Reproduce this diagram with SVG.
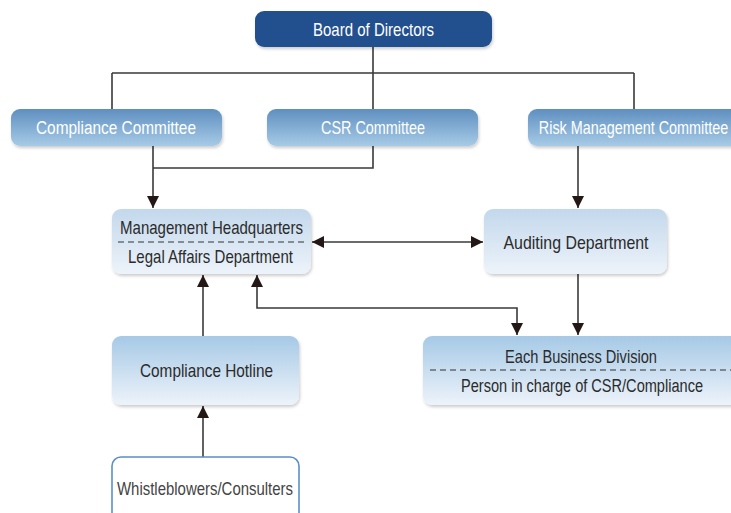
<svg xmlns="http://www.w3.org/2000/svg" width="731" height="513" viewBox="0 0 731 513">
<defs>
<linearGradient id="gCom" x1="0" y1="0" x2="0" y2="1">
<stop offset="0" stop-color="#5f8fc0"/><stop offset="1" stop-color="#a7cbe6"/>
</linearGradient>
<linearGradient id="gLow" x1="0" y1="0" x2="0" y2="1">
<stop offset="0" stop-color="#a6c9e6"/><stop offset="1" stop-color="#edf3fa"/>
</linearGradient>
<linearGradient id="gLow2" x1="0" y1="0" x2="0" y2="1">
<stop offset="0" stop-color="#c3d8ec"/><stop offset="1" stop-color="#edf3fa"/>
</linearGradient>
<filter id="sh" x="-10%" y="-10%" width="120%" height="130%">
<feDropShadow dx="1" dy="2" stdDeviation="1.5" flood-color="#000" flood-opacity="0.2"/>
</filter>
<marker id="ah" viewBox="0 0 10 10" refX="10" refY="5" markerWidth="12" markerHeight="12" markerUnits="userSpaceOnUse" orient="auto-start-reverse">
<path d="M0,0 L10,5 L0,10 Z" fill="#231815"/>
</marker>
</defs>
<style>
text{font-family:"Liberation Sans",Arial,sans-serif;font-size:19px;text-anchor:middle}
.w{fill:#ffffff}
.d{fill:#2b2b2b}
.c{fill:none;stroke:#3a3a3a;stroke-width:1.6}
.a{marker-end:url(#ah)}
.dash{stroke:#333;stroke-width:1.2;stroke-dasharray:6,4}
</style>
<g id="connectors">
<path class="c" d="M373,47 V73 M112,73 H634 M112,73 V109 M373,73 V109 M634,73 V109"/>
<path class="c a" d="M153,146 V208"/>
<path class="c" d="M153,168 H373 V146"/>
<path class="c a" d="M578,146 V208"/>
<path class="c a" d="M578,274 V335"/>
<path class="c a" style="marker-start:url(#ah)" d="M312,242 H483"/>
<path class="c a" style="marker-start:url(#ah)" d="M517,335 V308 H257 V275"/>
<path class="c a" d="M203,336 V275"/>
<path class="c a" d="M203,457 V406"/>
</g>
<g id="board">
<rect x="255" y="11" width="237" height="36" rx="9" fill="#22508e" filter="url(#sh)"/>
<text class="w" x="373.5" y="35.5" textLength="121" lengthAdjust="spacingAndGlyphs">Board of Directors</text>
</g>
<g id="compliance-committee">
<rect x="11" y="109" width="211" height="37" rx="9" fill="url(#gCom)" filter="url(#sh)"/>
<text class="w" x="116" y="134" textLength="160" lengthAdjust="spacingAndGlyphs">Compliance Committee</text>
</g>
<g id="csr-committee">
<rect x="267" y="109" width="211" height="37" rx="9" fill="url(#gCom)" filter="url(#sh)"/>
<text class="w" x="373" y="134" textLength="104" lengthAdjust="spacingAndGlyphs">CSR Committee</text>
</g>
<g id="risk-committee">
<rect x="528" y="109" width="215" height="37" rx="9" fill="url(#gCom)" filter="url(#sh)"/>
<text class="w" transform="translate(633.5,134) scale(0.757,1)" x="0" y="0">Risk Management Committee</text>
</g>
<g id="management-hq">
<rect x="112" y="209" width="199" height="65" rx="9" fill="url(#gLow2)" filter="url(#sh)"/>
<text class="d" x="211.5" y="234" textLength="183" lengthAdjust="spacingAndGlyphs">Management Headquarters</text>
<line class="dash" x1="118" y1="242" x2="305" y2="242"/>
<text class="d" x="210.5" y="263" textLength="165" lengthAdjust="spacingAndGlyphs">Legal Affairs Department</text>
</g>
<g id="auditing">
<rect x="484" y="209" width="183" height="65" rx="9" fill="url(#gLow2)" filter="url(#sh)"/>
<text class="d" x="576" y="249" textLength="145" lengthAdjust="spacingAndGlyphs">Auditing Department</text>
</g>
<g id="business-division">
<rect x="423" y="336" width="318" height="69" rx="9" fill="url(#gLow)" filter="url(#sh)"/>
<text class="d" x="581" y="363" textLength="152" lengthAdjust="spacingAndGlyphs">Each Business Division</text>
<line class="dash" x1="430" y1="370" x2="731" y2="370"/>
<text class="d" transform="translate(582,392) scale(0.767,1)" x="0" y="0">Person in charge of CSR/Compliance</text>
</g>
<g id="hotline">
<rect x="112" y="336" width="187" height="69" rx="9" fill="url(#gLow)" filter="url(#sh)"/>
<text class="d" x="206.5" y="377" textLength="133" lengthAdjust="spacingAndGlyphs">Compliance Hotline</text>
</g>
<g id="whistleblowers">
<rect x="112" y="457" width="187" height="70" rx="9" fill="#ffffff" stroke="#5b8fc7" stroke-width="1.6"/>
<text x="205" y="495" fill="#444" textLength="176" lengthAdjust="spacingAndGlyphs">Whistleblowers/Consulters</text>
</g>
</svg>
